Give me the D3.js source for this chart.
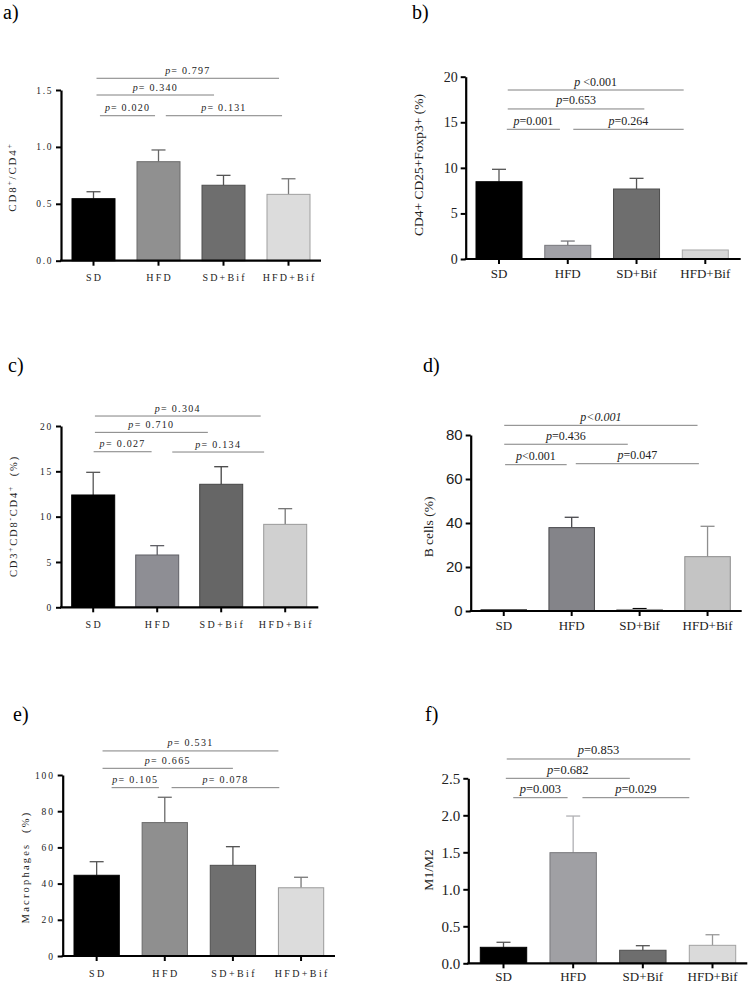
<!DOCTYPE html>
<html>
<head>
<meta charset="utf-8">
<script src="https://cdn.jsdelivr.net/npm/d3@7"></script>
<style>
  html, body { margin: 0; padding: 0; background: #fff; }
  svg { display: block; }
  .serif { font-family: "Liberation Serif", "Times New Roman", Times, serif; }
  .sans { font-family: "Liberation Sans", Arial, Helvetica, sans-serif; }
</style>
</head>
<body>
<svg id="chart" width="751" height="984"></svg>
<script>
// ---------------- DATA ----------------
const categories = ["SD", "HFD", "SD+Bif", "HFD+Bif"];

const valuesA = [0.545, 0.870, 0.663, 0.583];
const errorsA = [0.061, 0.103, 0.087, 0.137];
const ticksA  = [0, 0.5, 1.0, 1.5];
const pLabelsA = ["p= 0.020", "p= 0.131", "p= 0.340", "p= 0.797"];

const valuesB = [8.48, 1.50, 7.68, 0.99];
const errorsB = [1.36, 0.47, 1.17, 0];
const ticksB  = [0, 5, 10, 15, 20];
const pLabelsB = ["p=0.001", "p=0.264", "p=0.653", "p <0.001"];

const valuesC = [12.39, 5.77, 13.57, 9.15];
const errorsC = [2.50, 1.03, 1.94, 1.73];
const ticksC  = [0, 5, 10, 15, 20];
const pLabelsC = ["p= 0.027", "p= 0.134", "p= 0.710", "p= 0.304"];

const valuesD = [0.5, 37.9, 0.7, 24.7];
const errorsD = [0, 4.7, 0.4, 13.8];
const ticksD  = [0, 20, 40, 60, 80];
const pLabelsD = ["p<0.001", "p=0.047", "p=0.436", "p<0.001"];

const valuesE = [44.6, 73.7, 50.1, 37.7];
const errorsE = [7.5, 14.0, 10.3, 5.8];
const ticksE  = [0, 20, 40, 60, 80, 100];
const pLabelsE = ["p= 0.105", "p= 0.078", "p= 0.665", "p= 0.531"];

const valuesF = [0.216, 1.495, 0.176, 0.243];
const errorsF = [0.068, 0.495, 0.062, 0.143];
const ticksF  = [0, 0.5, 1.0, 1.5, 2.0, 2.5];
const pLabelsF = ["p=0.003", "p=0.029", "p=0.682", "p=0.853"];

// ---------------- LAYOUT / STYLE ----------------
// comparison pairs: [fromIndex, fromFrac, toIndex, toFrac, yValue]
const panels = [
  { tag: "a)", tagX: 3, tagY: 19,
    values: valuesA, errors: errorsA, ticks: ticksA, pLabels: pLabelsA, domain: [0, 1.5],
    axisX: 61, axisEnd: 321, yTop: 90, y0: 260.7, bars: [72, 310], bw: 43,
    fmt: d3.format(".1f"), tickClass: "serif", tickSize: 9.5, tickLS: 1.6,
    catSize: 10, catLS: 2.2, catY: 281, pSize: 10, pLS: 1.2,
    ylabel: [["CD8",""],["+","sup"],["/CD4",""],["+","sup"]], ylabelX: 12, ylabelY: 177, ylabelSize: 11, ylabelLS: 1.8,
    fills: ["#000000", "#909090", "#6e6e6e", "#dcdcdc"],
    strokes: ["#000000", "#6c6c6c", "#4e4e4e", "#a0a0a0"],
    whisk: ["#555555", "#666666", "#555555", "#777777"],
    pairs: [[0,0.65,1,0.42,1.274],[1,0.67,3,0.35,1.274],[0,0.57,2,0.28,1.456],[0,0.57,3,0.28,1.603]] },
  { tag: "b)", tagX: 412, tagY: 19,
    values: valuesB, errors: errorsB, ticks: ticksB, pLabels: pLabelsB, domain: [0, 20],
    axisX: 465.7, axisEnd: 740.7, yTop: 76.7, y0: 259, bars: [476, 728.3], bw: 46,
    fmt: d3.format("d"), tickClass: "serif", tickSize: 14, tickLS: 0,
    catSize: 13, catLS: 0, catY: 278, pSize: 12, pLS: 0,
    ylabel: [["CD4+ CD25+Foxp3+ (%)",""]], ylabelX: 418, ylabelY: 165, ylabelSize: 13.5, ylabelLS: 0,
    fills: ["#000000", "#a0a0a6", "#6e6e6e", "#d6d6d6"],
    strokes: ["#000000", "#77777c", "#4e4e4e", "#a8a8a8"],
    whisk: ["#555555", "#77777c", "#555555", "#a8a8a8"],
    pairs: [[0,0.67,1,0.33,14.23],[1,0.62,3,0.03,14.23],[0,0.69,2,0.67,16.46],[0,0.69,3,0.03,18.54]] },
  { tag: "c)", tagX: 8, tagY: 372,
    values: valuesC, errors: errorsC, ticks: ticksC, pLabels: pLabelsC, domain: [0, 20],
    axisX: 61, axisEnd: 318.3, yTop: 426, y0: 607.3, bars: [71.7, 306.7], bw: 43,
    fmt: d3.format("d"), tickClass: "serif", tickSize: 9.5, tickLS: 1.8,
    catSize: 10, catLS: 2.4, catY: 628, pSize: 10, pLS: 1.3,
    ylabel: [["CD3",""],["+","sup"],["CD8",""],["-","sup"],["CD4",""],["+","sup"],["  (%)",""]], ylabelX: 13, ylabelY: 516, ylabelSize: 10.5, ylabelLS: 1.8,
    fills: ["#000000", "#8e8e94", "#666666", "#d0d0d0"],
    strokes: ["#000000", "#606066", "#444444", "#999999"],
    whisk: ["#555555", "#606066", "#444444", "#777777"],
    pairs: [[0,0.51,1,0.37,17.16],[1,0.85,3,0.01,17.13],[0,0.54,2,0.19,19.3],[0,0.54,3,-0.07,21.1]] },
  { tag: "d)", tagX: 423, tagY: 372,
    values: valuesD, errors: errorsD, ticks: ticksD, pLabels: pLabelsD, domain: [0, 80],
    axisX: 470.7, axisEnd: 741.7, yTop: 435, y0: 611, bars: [481, 730.3], bw: 45.5,
    fmt: d3.format("d"), tickClass: "sans", tickSize: 15, tickLS: 0,
    catSize: 13, catLS: 0, catY: 630, pSize: 12, pLS: 0, italicAll: [3],
    ylabel: [["B cells (%)",""]], ylabelX: 428, ylabelY: 527, ylabelSize: 13.5, ylabelLS: 0,
    fills: ["#111111", "#848489", "#c8c8c8", "#c4c4c4"],
    strokes: ["#000000", "#48484c", "#9a9a9a", "#8e8e8e"],
    whisk: ["#000000", "#48484c", "#000000", "#8e8e8e"],
    pairs: [[0,0.53,1,0.39,66.5],[1,0.59,3,0.31,66.95],[0,0.51,2,0.24,75.8],[0,0.51,3,0.28,84.4]] },
  { tag: "e)", tagX: 13, tagY: 721,
    values: valuesE, errors: errorsE, ticks: ticksE, pLabels: pLabelsE, domain: [0, 100],
    axisX: 62.7, axisEnd: 335, yTop: 775, y0: 956, bars: [74, 323.7], bw: 45.3,
    fmt: d3.format("d"), tickClass: "serif", tickSize: 9.5, tickLS: 1.8,
    catSize: 10, catLS: 2.4, catY: 977, pSize: 10, pLS: 1.3,
    ylabel: [["Macrophages  (%)",""]], ylabelX: 25, ylabelY: 867, ylabelSize: 10.5, ylabelLS: 2.2,
    fills: ["#000000", "#8f8f8f", "#6f6f6f", "#dcdcdc"],
    strokes: ["#000000", "#6a6a6a", "#4e4e4e", "#9a9a9a"],
    whisk: ["#555555", "#6a6a6a", "#555555", "#777777"],
    pairs: [[0,0.83,1,0.37,93.0],[1,0.65,3,0.02,93.0],[0,0.63,2,0.5,103.7],[0,0.63,3,0.0,113.3]] },
  { tag: "f)", tagX: 425, tagY: 721,
    values: valuesF, errors: errorsF, ticks: ticksF, pLabels: pLabelsF, domain: [0, 2.5],
    axisX: 468.3, axisEnd: 747.3, yTop: 778.3, y0: 963.3, bars: [480.3, 735.7], bw: 46.4,
    fmt: d3.format(".1f"), tickClass: "serif", tickSize: 15, tickLS: 0,
    catSize: 13, catLS: 0, catY: 981, pSize: 12.5, pLS: 0,
    ylabel: [["M1/M2",""]], ylabelX: 428, ylabelY: 870, ylabelSize: 13.5, ylabelLS: 0,
    fills: ["#000000", "#a0a0a4", "#6e6e6e", "#dadada"],
    strokes: ["#000000", "#78787c", "#4e4e4e", "#a2a2a2"],
    whisk: ["#555555", "#b0b0b4", "#555555", "#999999"],
    pairs: [[0,0.71,1,0.38,2.238],[1,0.70,3,0.0,2.238],[0,0.55,2,0.22,2.5],[0,0.57,3,0.02,2.761]] }
];

const svg = d3.select("#chart");

panels.forEach(P => {
  const g = svg.append("g");

  g.append("text").attr("class", "serif").attr("x", P.tagX).attr("y", P.tagY)
    .style("font-size", "20px").attr("fill", "#000")
    .text(P.tag);

  const y = d3.scaleLinear().domain(P.domain).range([P.y0, P.yTop]);
  const n = categories.length;
  const span = P.bars[1] - P.bars[0];
  const step = (span - P.bw) / (n - 1);
  const pInner = 1 - P.bw / step;
  const x = d3.scaleBand().domain(categories).range(P.bars)
    .paddingInner(pInner).paddingOuter(0);

  const data = categories.map((c, i) => ({ c, i, v: P.values[i], e: P.errors[i] }));

  const capW = 14;
  data.filter(d => d.e > 0).forEach(d => {
    const cx = x(d.c) + x.bandwidth() / 2;
    g.append("line").attr("x1", cx).attr("x2", cx)
      .attr("y1", y(d.v)).attr("y2", y(d.v + d.e))
      .attr("stroke", P.whisk[d.i]).attr("stroke-width", 1.3);
    g.append("line").attr("x1", cx - capW / 2).attr("x2", cx + capW / 2)
      .attr("y1", y(d.v + d.e)).attr("y2", y(d.v + d.e))
      .attr("stroke", P.whisk[d.i]).attr("stroke-width", 1.3);
  });

  g.selectAll("rect.bar").data(data).join("rect").attr("class", "bar")
    .attr("x", d => x(d.c))
    .attr("y", d => y(d.v))
    .attr("width", x.bandwidth())
    .attr("height", d => y(0) - y(d.v))
    .attr("fill", d => P.fills[d.i])
    .attr("stroke", d => P.strokes[d.i])
    .attr("stroke-width", 1);

  const yAxis = d3.axisLeft(y).tickValues(P.ticks).tickFormat(P.fmt)
    .tickSize(5).tickSizeOuter(0).tickPadding(3);
  const ya = g.append("g").attr("transform", `translate(${P.axisX},0)`).call(yAxis);
  ya.attr("font-family", null).attr("font-size", null);
  ya.select(".domain").attr("stroke", "#000").attr("stroke-width", 2.2);
  ya.selectAll(".tick line").attr("stroke", "#000").attr("stroke-width", 2);
  ya.selectAll(".tick text").attr("class", P.tickClass)
    .style("font-size", P.tickSize + "px")
    .style("letter-spacing", P.tickLS + "px").attr("fill", "#222");

  g.append("line").attr("x1", P.axisX - 1).attr("x2", P.axisEnd)
    .attr("y1", P.y0).attr("y2", P.y0)
    .attr("stroke", "#000").attr("stroke-width", 2.2);

  const xAxis = d3.axisBottom(x).tickSize(5).tickSizeOuter(0).tickPadding(4);
  const xa = g.append("g").attr("transform", `translate(0,${P.y0})`).call(xAxis);
  xa.select(".domain").remove();
  xa.selectAll(".tick line").attr("stroke", "#000").attr("stroke-width", 2);
  xa.selectAll(".tick text").remove();

  g.selectAll("text.cat").data(data).join("text").attr("class", "cat serif")
    .attr("x", d => x(d.c) + x.bandwidth() / 2 + P.catLS / 2)
    .attr("y", P.catY)
    .attr("text-anchor", "middle")
    .style("font-size", P.catSize + "px")
    .style("letter-spacing", P.catLS + "px").attr("fill", "#222")
    .text(d => d.c);

  const yl = g.append("text").attr("class", "serif")
    .attr("transform", `translate(${P.ylabelX},${P.ylabelY}) rotate(-90)`)
    .attr("text-anchor", "middle").attr("dy", "0.35em")
    .style("font-size", P.ylabelSize + "px")
    .style("letter-spacing", P.ylabelLS + "px").attr("fill", "#222")
    .style("white-space", "pre");
  P.ylabel.forEach(([t, kind]) => {
    const ts = yl.append("tspan").text(t);
    if (kind === "sup") ts.attr("baseline-shift", "super").style("font-size", (P.ylabelSize * 0.7) + "px");
  });

  P.pairs.forEach((pr, k) => {
    const [i1, f1, i2, f2, yv] = pr;
    const x1 = x(categories[i1]) + f1 * x.bandwidth();
    const x2 = x(categories[i2]) + f2 * x.bandwidth();
    const yy = y(yv);
    g.append("line").attr("x1", x1).attr("x2", x2).attr("y1", yy).attr("y2", yy)
      .attr("stroke", "#808080").attr("stroke-width", 1);
    const label = P.pLabels[k];
    const t = g.append("text").attr("class", "serif")
      .attr("x", (x1 + x2) / 2).attr("y", yy - 4.5)
      .attr("text-anchor", "middle")
      .style("font-size", P.pSize + "px").style("letter-spacing", P.pLS + "px")
      .attr("fill", "#222").style("white-space", "pre");
    const allItalic = P.italicAll && P.italicAll.includes(k);
    t.append("tspan").style("font-style", "italic").text(label[0]);
    t.append("tspan").style("font-style", allItalic ? "italic" : "normal").text(label.slice(1));
  });
});
</script>
</body>
</html>
